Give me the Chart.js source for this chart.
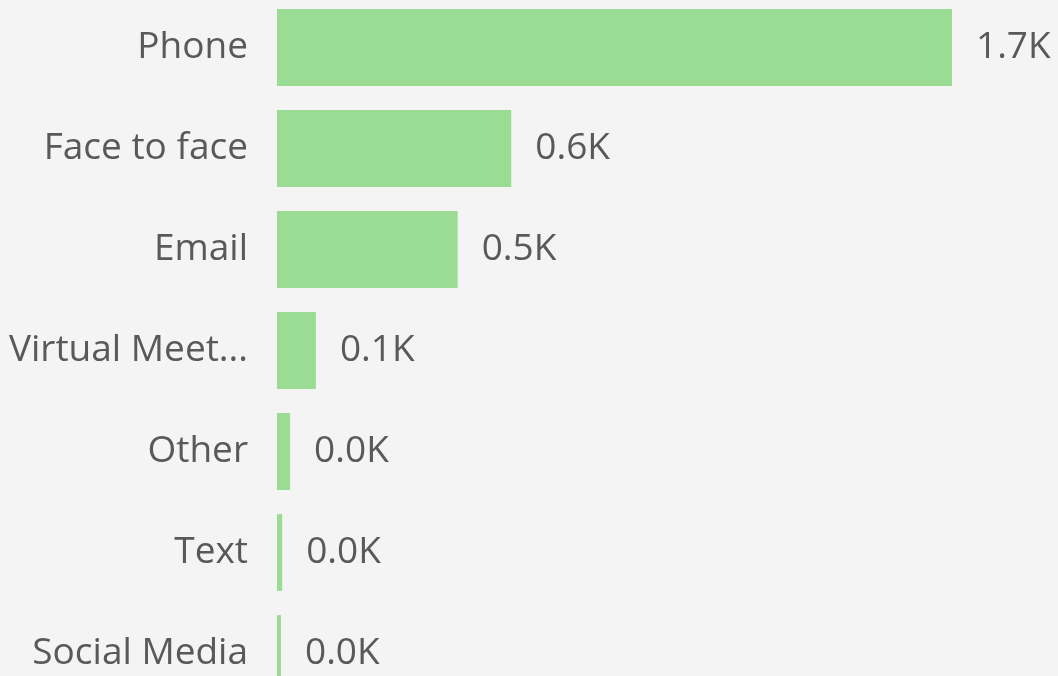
<!DOCTYPE html>
<html>
<head>
<meta charset="utf-8">
<script src="https://cdn.jsdelivr.net/npm/chart.js@4/dist/chart.umd.min.js"></script>
<style>
  html, body { margin: 0; padding: 0; background: #f4f4f4; overflow: hidden; }
  #wrap { position: absolute; left: 0; top: -3px; width: 1058px; height: 707px; }
</style>
</head>
<body>
<div id="wrap"><canvas id="c" width="1058" height="707"></canvas></div>
<script>
const categories = ["Phone", "Face to face", "Email", "Virtual Meet...", "Other", "Text", "Social Media"];
const values = [1700, 590, 455, 98, 33, 13, 10];
const valueLabels = ["1.7K", "0.6K", "0.5K", "0.1K", "0.0K", "0.0K", "0.0K"];

const FONT = "'Open Sans'";
const FONT_SIZE = 37;
const TEXT_COLOR = "#595959";

const valueLabelPlugin = {
  id: 'valueLabels',
  afterDatasetsDraw(chart) {
    const ctx = chart.ctx;
    const meta = chart.getDatasetMeta(0);
    ctx.save();
    ctx.font = FONT_SIZE + "px " + FONT;
    ctx.fillStyle = TEXT_COLOR;
    ctx.textAlign = "left";
    ctx.textBaseline = "middle";
    meta.data.forEach((bar, i) => {
      ctx.fillText(valueLabels[i], bar.x + 24, bar.y);
    });
    ctx.restore();
  }
};

new Chart(document.getElementById('c'), {
  type: 'bar',
  data: {
    labels: categories,
    datasets: [{
      data: values,
      backgroundColor: '#9bdc95',
      borderWidth: 0,
      categoryPercentage: 1,
      barPercentage: 0.76
    }]
  },
  options: {
    indexAxis: 'y',
    responsive: false,
    animation: false,
    layout: { padding: 0 },
    plugins: { legend: { display: false }, tooltip: { enabled: false } },
    scales: {
      x: { display: false, min: 0, max: 1967 },
      y: {
        grid: { display: false, drawTicks: false },
        border: { display: false },
        ticks: { color: TEXT_COLOR, font: { family: "Open Sans", size: FONT_SIZE }, padding: 29 },
        afterFit(scale) {
          scale.width = 277;
          scale.paddingTop = 0;
          scale.paddingBottom = 0;
        }
      }
    }
  },
  plugins: [valueLabelPlugin]
});
</script>
</body>
</html>
